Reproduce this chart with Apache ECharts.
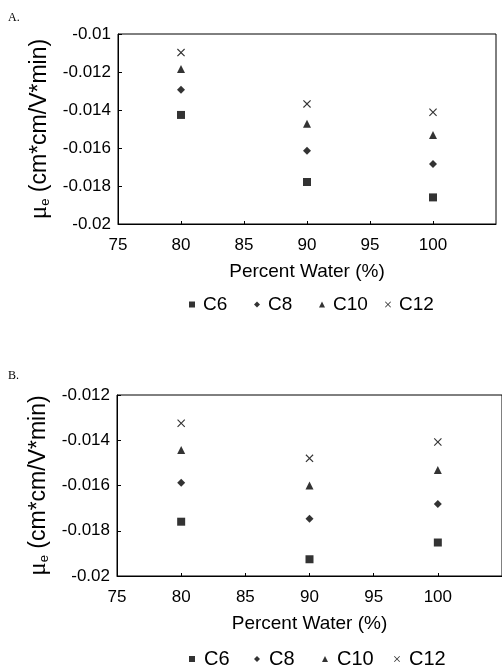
<!DOCTYPE html>
<html>
<head>
<meta charset="utf-8">
<script src="https://cdn.jsdelivr.net/npm/echarts@6/dist/echarts.min.js"></script>
<style>html,body{margin:0;padding:0;background:#fff}#c{width:502px;height:667px}</style>
</head>
<body>
<div id="c"></div>
<script>
// Data
const water = [80, 90, 100];
const seriesNames = ['C6', 'C8', 'C10', 'C12'];
const xTicks = [75, 80, 85, 90, 95, 100, 105];
// Panel A
const A_C6  = [-0.01426, -0.01779, -0.01860];
const A_C8  = [-0.01293, -0.01614, -0.01684];
const A_C10 = [-0.01184, -0.01472, -0.01532];
const A_C12 = [-0.01098, -0.01368, -0.01412];
// Panel B
const B_C6  = [-0.01760, -0.01926, -0.01852];
const B_C8  = [-0.01588, -0.01747, -0.01682];
const B_C10 = [-0.01443, -0.01600, -0.01532];
const B_C12 = [-0.01325, -0.01480, -0.01408];

const FONT = '"Liberation Sans", Arial, sans-serif';
const xPath = 'path://M0,1 L1,0 L5,4 L9,0 L10,1 L6,5 L10,9 L9,10 L5,6 L1,10 L0,9 L4,5 Z';
const symbols = ['rect', 'diamond', 'triangle', xPath];
const sizes = [8, 8, 8, 8];

function pairs(vals) { return water.map((w, i) => [w, vals[i]]); }

const chart = echarts.init(document.getElementById('c'), null, {renderer: 'canvas'});

function xAxis(idx) {
  return {
    type: 'value', gridIndex: idx, min: xTicks[0], max: xTicks[xTicks.length - 1], interval: 5,
    axisLine: {lineStyle: {color: '#000', width: 1}},
    axisTick: {inside: true, length: 3, lineStyle: {color: '#000'}},
    axisLabel: {color: '#000', fontFamily: FONT, fontSize: 17, margin: 13, showMaxLabel: false},
    splitLine: {show: false},
    name: 'Percent Water (%)', nameLocation: 'middle', nameGap: 38,
    nameTextStyle: {color: '#000', fontFamily: FONT, fontSize: 19}
  };
}
function yAxis(idx, min, max) {
  return {
    type: 'value', gridIndex: idx, min: min, max: max, interval: 0.002,
    axisLine: {show: true, lineStyle: {color: '#000', width: 1}},
    axisTick: {show: true, inside: true, length: 4, lineStyle: {color: '#000'}},
    axisLabel: {color: '#000', fontFamily: FONT, fontSize: 17, margin: 7,
      formatter: v => String(parseFloat(v.toFixed(4)))},
    splitLine: {show: false},
    name: '{mu|μ}{sub|e}{t| (cm*cm/V*min)}', nameLocation: 'middle', nameRotate: 90, nameGap: 54,
    nameTextStyle: {color: '#000', fontFamily: FONT, fontSize: 23,
      rich: {
        mu: {fontFamily: '"Liberation Serif", serif', fontSize: 25, color: '#000'},
        sub: {fontFamily: FONT, fontSize: 13, color: '#000', verticalAlign: 'bottom', padding: [8, 0, 0, 0]},
        t: {fontFamily: FONT, fontSize: 23, color: '#000'}
      }}
  };
}

const dataA = [A_C6, A_C8, A_C10, A_C12];
const dataB = [B_C6, B_C8, B_C10, B_C12];
const series = [];
[dataA, dataB].forEach((set, gi) => {
  set.forEach((vals, si) => {
    series.push({
      type: 'scatter', name: seriesNames[si], xAxisIndex: gi, yAxisIndex: gi,
      symbol: symbols[si], symbolSize: sizes[si],
      itemStyle: {color: '#000'},
      data: pairs(vals)
    });
  });
});

const legendLeftA = [189, 254, 319, 385];
const legendLeftB = [189, 254, 322, 394];
const legends = [];
seriesNames.forEach((n, i) => {
  legends.push({data: [n], left: legendLeftA[i], top: 295, padding: 0, itemWidth: 6, itemHeight: 6,
    selectedMode: false, textStyle: {color: '#000', fontFamily: FONT, fontSize: 19, padding: [0, 0, 0, 3]}});
  legends.push({data: [n], left: legendLeftB[i], top: 649, padding: 0, itemWidth: 6, itemHeight: 6,
    selectedMode: false, textStyle: {color: '#000', fontFamily: FONT, fontSize: 20, padding: [0, 0, 0, 4]}});
});

chart.setOption({
  animation: false,
  backgroundColor: '#fff',
  graphic: [
    {type: 'text', left: 8, top: 12, style: {text: 'A.', fontFamily: '"Liberation Serif", serif', fontSize: 12, fill: '#000'}},
    {type: 'text', left: 8, top: 370, style: {text: 'B.', fontFamily: '"Liberation Serif", serif', fontSize: 12, fill: '#000'}}
  ],
  grid: [
    {left: 118, top: 34, width: 378, height: 190, show: true, borderColor: '#000', borderWidth: 1, backgroundColor: 'transparent'},
    {left: 117, top: 395, width: 452, height: 181, show: true, borderColor: '#000', borderWidth: 1, backgroundColor: 'transparent'}
  ],
  xAxis: [xAxis(0), xAxis(1)],
  yAxis: [yAxis(0, -0.02, -0.01), yAxis(1, -0.02, -0.012)],
  legend: legends,
  series: series
});
</script>
</body>
</html>
